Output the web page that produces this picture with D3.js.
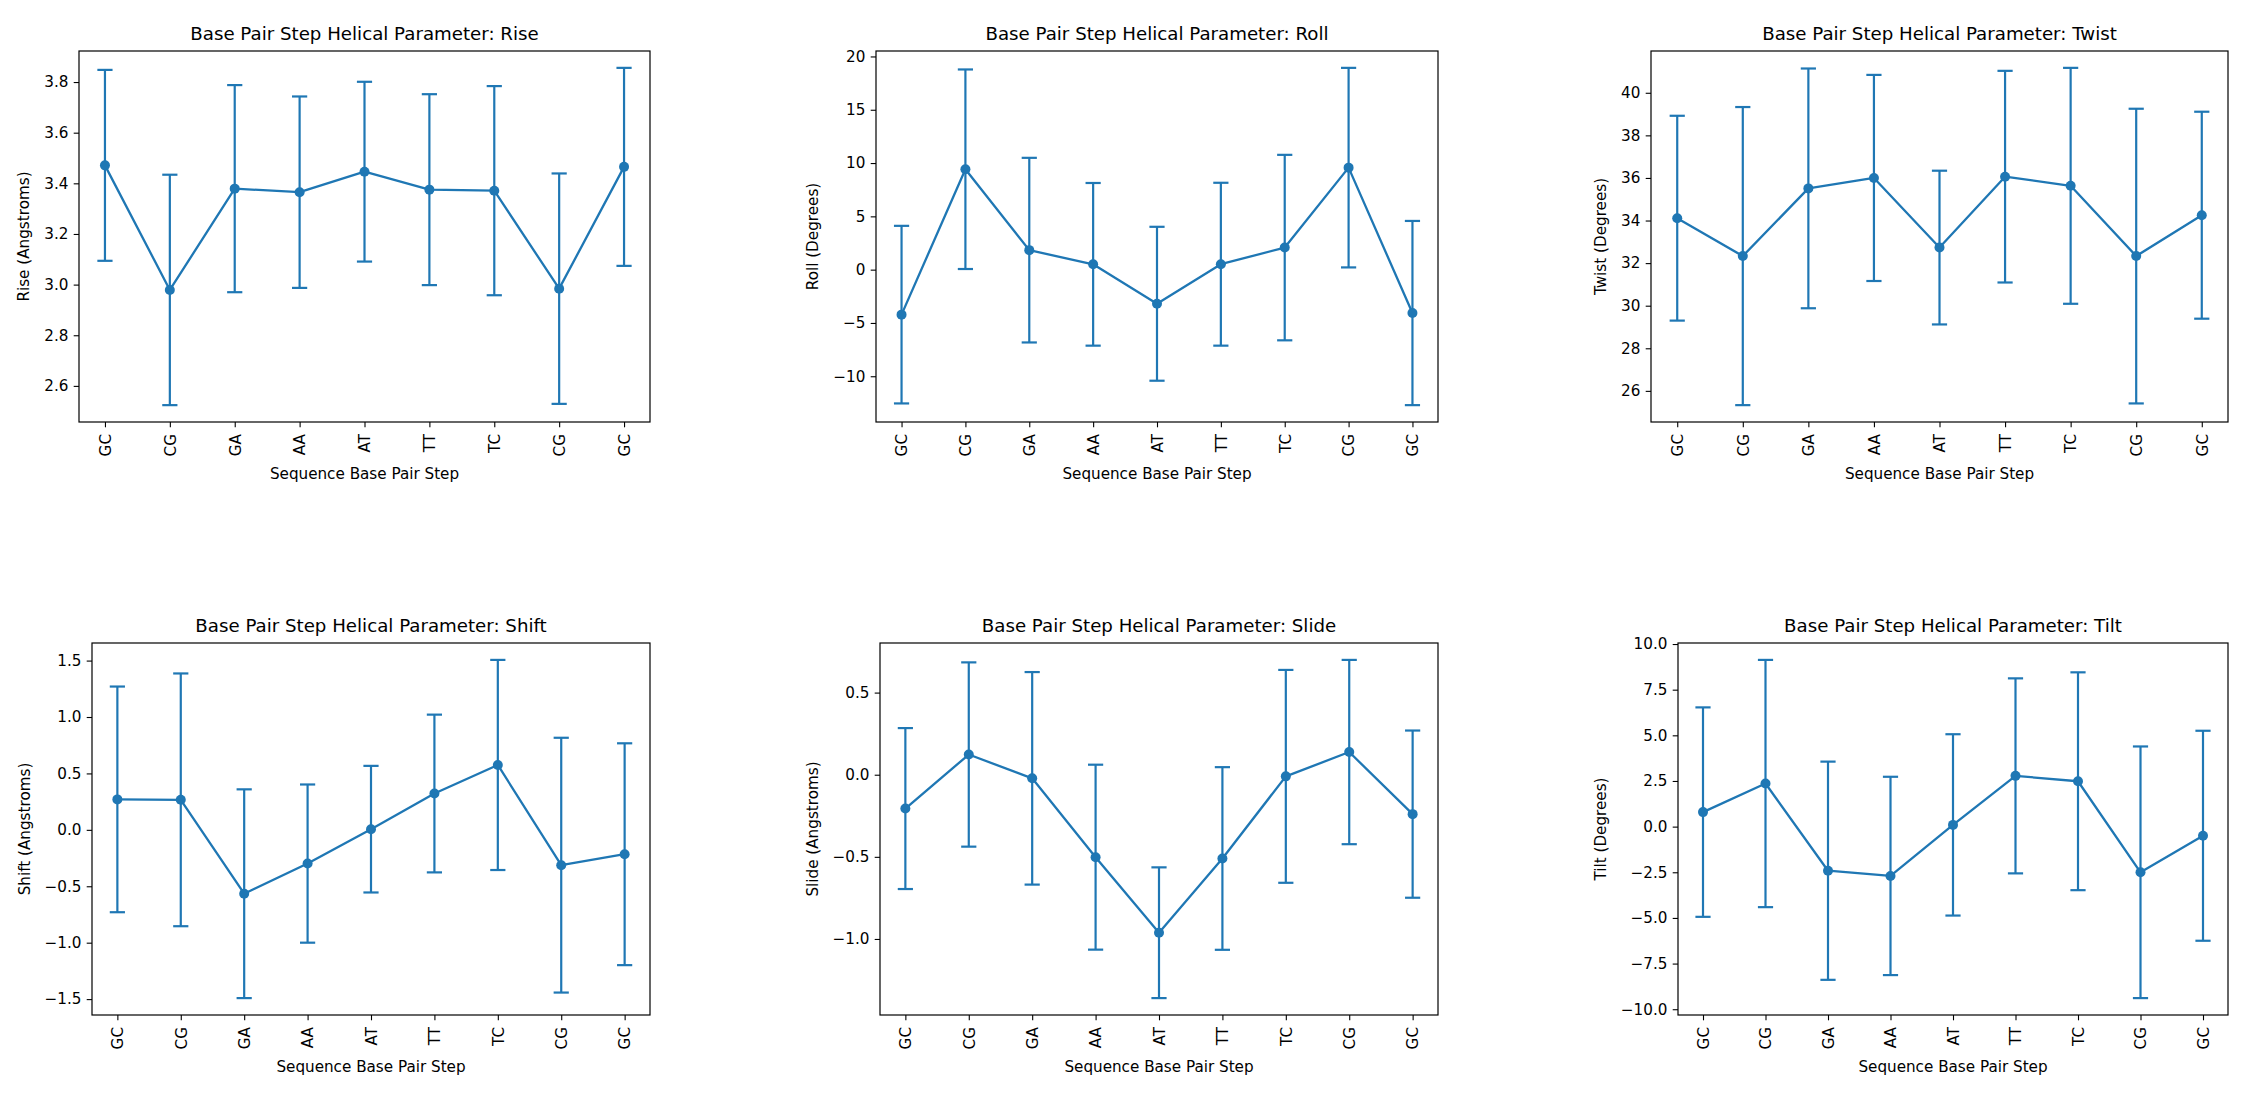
<!DOCTYPE html>
<html>
<head>
<meta charset="utf-8">
<script src="https://cdn.jsdelivr.net/npm/d3@7"></script>
<style>
  body { margin: 0; background: #fff; }
  svg { display: block; font-family: "DejaVu Sans", sans-serif; }
</style>
</head>
<body>
<svg id="chart" width="2246" height="1101"></svg>
<script>
// base pair steps along x
const steps = ["GC", "CG", "GA", "AA", "AT", "TT", "TC", "CG", "GC"];

// mean and std for each helical parameter
const riseMean  = [3.471, 2.979, 3.379, 3.365, 3.446, 3.375, 3.371, 2.984, 3.465];
const riseErr   = [0.377, 0.455, 0.409, 0.378, 0.355, 0.377, 0.413, 0.455, 0.391];
const rollMean  = [-4.22, 9.42, 1.83, 0.50, -3.20, 0.51, 2.07, 9.57, -4.07];
const rollErr   = [8.33, 9.36, 8.66, 7.63, 7.22, 7.64, 8.70, 9.36, 8.64];
const twistMean = [34.11, 32.33, 35.51, 36.00, 32.73, 36.06, 35.63, 32.33, 34.25];
const twistErr  = [4.81, 7.00, 5.63, 4.84, 3.61, 4.97, 5.54, 6.92, 4.86];
const shiftMean = [0.270, 0.266, -0.566, -0.299, 0.006, 0.322, 0.575, -0.313, -0.216];
const shiftErr  = [1.000, 1.120, 0.925, 0.701, 0.561, 0.699, 0.931, 1.129, 0.983];
const slideMean = [-0.206, 0.123, -0.022, -0.502, -0.962, -0.510, -0.010, 0.138, -0.240];
const slideErr  = [0.490, 0.561, 0.647, 0.563, 0.398, 0.556, 0.648, 0.561, 0.509];
const tiltMean  = [0.795, 2.36, -2.415, -2.70, 0.095, 2.78, 2.485, -2.50, -0.50];
const tiltErr   = [5.735, 6.77, 5.975, 5.43, 4.965, 5.34, 5.965, 6.89, 5.75];

// y tick values
const riseTicks  = [2.6, 2.8, 3.0, 3.2, 3.4, 3.6, 3.8];
const rollTicks  = [-10, -5, 0, 5, 10, 15, 20];
const twistTicks = [26, 28, 30, 32, 34, 36, 38, 40];
const shiftTicks = [-1.5, -1.0, -0.5, 0.0, 0.5, 1.0, 1.5];
const slideTicks = [-1.0, -0.5, 0.0, 0.5];
const tiltTicks  = [-10, -7.5, -5, -2.5, 0, 2.5, 5, 7.5, 10];

const color = "#1f77b4";
const minus = s => s.replace("-", "\u2212");

const panels = [
  { name: "Rise",  unit: "Angstroms", mean: riseMean,  err: riseErr,  ticks: riseTicks,  fmt: ".1f", box: [79, 51, 650, 422] },
  { name: "Roll",  unit: "Degrees",   mean: rollMean,  err: rollErr,  ticks: rollTicks,  fmt: "d",   box: [876, 51, 1438, 422] },
  { name: "Twist", unit: "Degrees",   mean: twistMean, err: twistErr, ticks: twistTicks, fmt: "d",   box: [1651, 51, 2228, 422] },
  { name: "Shift", unit: "Angstroms", mean: shiftMean, err: shiftErr, ticks: shiftTicks, fmt: ".1f", box: [92, 643, 650, 1015] },
  { name: "Slide", unit: "Angstroms", mean: slideMean, err: slideErr, ticks: slideTicks, fmt: ".1f", box: [880, 643, 1438, 1015] },
  { name: "Tilt",  unit: "Degrees",   mean: tiltMean,  err: tiltErr,  ticks: tiltTicks,  fmt: ".1f", box: [1678, 643, 2228, 1015] }
];

const svg = d3.select("#chart");
const tickLen = 5.3, tickPad = 5.3;

panels.forEach(p => {
  const [x0, y0, x1, y1] = p.box;
  const w = x1 - x0, h = y1 - y0;
  const g = svg.append("g").attr("transform", `translate(${x0},${y0})`);

  // x: categorical, same 5% margins as matplotlib
  const x = d3.scalePoint().domain(d3.range(steps.length)).range([0, w]).padding(0.4);

  // y: data extent of error bars + 5% margin
  const lo = d3.min(p.mean, (m, i) => m - p.err[i]);
  const hi = d3.max(p.mean, (m, i) => m + p.err[i]);
  const pad = (hi - lo) * 0.05;
  const y = d3.scaleLinear().domain([lo - pad, hi + pad]).range([h, 0]);

  // Y axis
  const yAxis = d3.axisLeft(y)
    .tickValues(p.ticks)
    .tickSize(tickLen)
    .tickPadding(tickPad)
    .tickFormat(d => minus(d3.format(p.fmt)(d)));
  const ya = g.append("g").call(yAxis);
  ya.select(".domain").remove();
  ya.selectAll(".tick line").attr("stroke", "#000").attr("stroke-width", 1.1);
  ya.selectAll(".tick text")
    .attr("font-size", 15.2).attr("font-family", "DejaVu Sans").attr("fill", "#000");
  ya.attr("font-family", null).attr("font-size", null);

  // X axis
  const xAxis = d3.axisBottom(x).tickSize(tickLen).tickFormat(i => steps[i]);
  const xa = g.append("g").attr("transform", `translate(0,${h})`).call(xAxis);
  xa.select(".domain").remove();
  xa.selectAll(".tick line").attr("stroke", "#000").attr("stroke-width", 1.1);
  xa.selectAll(".tick text")
    .attr("font-size", 15.2).attr("font-family", "DejaVu Sans").attr("fill", "#000")
    .attr("y", 0).attr("x", -12).attr("dy", "0.35em")
    .attr("text-anchor", "end")
    .attr("transform", "rotate(-90)");
  xa.attr("font-family", null).attr("font-size", null);

  // error bars
  const bars = g.append("g").attr("stroke", color).attr("stroke-width", 2.2).attr("fill", "none");
  bars.selectAll(".bar").data(p.mean).join("line")
    .attr("x1", (d, i) => x(i)).attr("x2", (d, i) => x(i))
    .attr("y1", (d, i) => y(d - p.err[i])).attr("y2", (d, i) => y(d + p.err[i]));
  const cap = 7.6;
  bars.selectAll(".capTop").data(p.mean).join("line")
    .attr("x1", (d, i) => x(i) - cap).attr("x2", (d, i) => x(i) + cap)
    .attr("y1", (d, i) => y(d + p.err[i])).attr("y2", (d, i) => y(d + p.err[i]));
  bars.selectAll(".capBot").data(p.mean).join("line")
    .attr("x1", (d, i) => x(i) - cap).attr("x2", (d, i) => x(i) + cap)
    .attr("y1", (d, i) => y(d - p.err[i])).attr("y2", (d, i) => y(d - p.err[i]));

  // mean line + markers
  const line = d3.line().x((d, i) => x(i)).y(d => y(d));
  g.append("path").datum(p.mean)
    .attr("d", line)
    .attr("fill", "none").attr("stroke", color).attr("stroke-width", 2.3)
    .attr("stroke-linejoin", "round");
  g.selectAll(".pt").data(p.mean).join("circle")
    .attr("cx", (d, i) => x(i)).attr("cy", d => y(d)).attr("r", 5)
    .attr("fill", color);

  // frame
  g.append("rect").attr("width", w).attr("height", h)
    .attr("fill", "none").attr("stroke", "#000").attr("stroke-width", 1.2);

  // title
  g.append("text").attr("x", w / 2).attr("y", -11)
    .attr("text-anchor", "middle").attr("font-size", 18.2)
    .text(`Base Pair Step Helical Parameter: ${p.name}`);

  // x label
  g.append("text").attr("x", w / 2).attr("y", h + 57)
    .attr("text-anchor", "middle").attr("font-size", 15.2)
    .text("Sequence Base Pair Step");

  // y label, placed left of the widest tick label
  let minX = 0;
  ya.selectAll(".tick text").each(function () {
    const b = this.getBBox();
    minX = Math.min(minX, b.x - tickLen);
  });
  minX = Math.min(minX, -(tickLen + tickPad + 24));
  const cx = minX - 6 - 3.6;
  g.append("text")
    .attr("transform", `translate(${cx},${h / 2}) rotate(-90)`)
    .attr("text-anchor", "middle").attr("font-size", 15.2)
    .text(`${p.name} (${p.unit})`);
});
</script>
</body>
</html>
